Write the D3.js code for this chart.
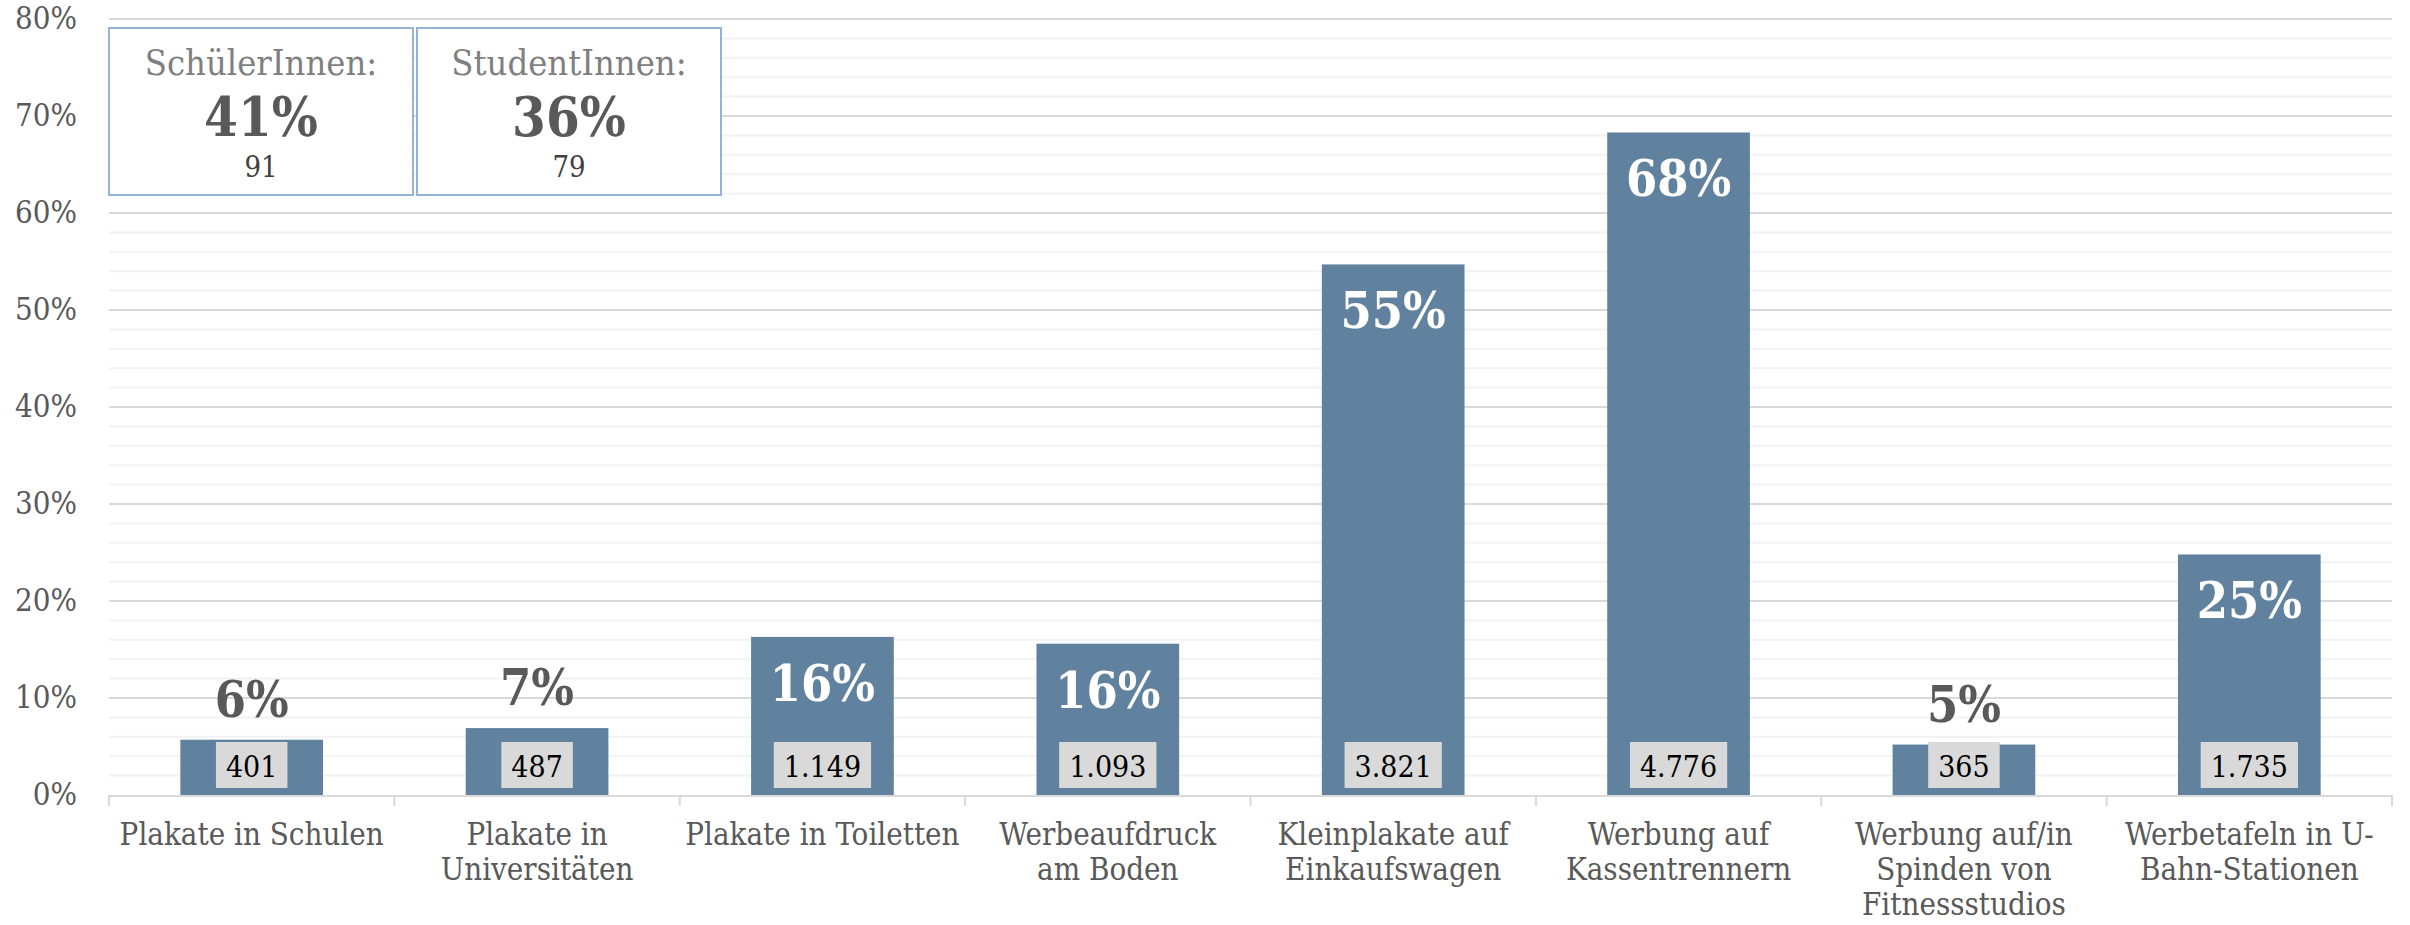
<!DOCTYPE html>
<html>
<head>
<meta charset="utf-8">
<script src="https://cdn.jsdelivr.net/npm/d3@7"></script>
<style>
    body { margin: 0; background: #fff; }
    svg { display: block; }
    text { font-family: 'DejaVu Serif Condensed', 'DejaVu Serif', serif; font-stretch: condensed; }
</style>
</head>
<body>
<div id="main"></div>
<script>
// categories, one entry per bar (lines are broken as in the original)
const categories = [
    ["Plakate in Schulen"],
    ["Plakate in", "Universitäten"],
    ["Plakate in Toiletten"],
    ["Werbeaufdruck", "am Boden"],
    ["Kleinplakate auf", "Einkaufswagen"],
    ["Werbung auf", "Kassentrennern"],
    ["Werbung auf/in", "Spinden von", "Fitnessstudios"],
    ["Werbetafeln in U-", "Bahn-Stationen"]
];

// share in percent (bar heights)
const shares = [5.7, 6.9, 16.3, 15.6, 54.7, 68.3, 5.2, 24.8];

// absolute counts shown at bar bottom
const counts = [401, 487, 1149, 1093, 3821, 4776, 365, 1735];

const yTicks = [0, 10, 20, 30, 40, 50, 60, 70, 80];

// summary boxes
const boxTitles = ["SchülerInnen:", "StudentInnen:"];
const boxShares = [41, 36];
const boxCounts = [91, 79];

const W = 2410, H = 925;
const margin = {top: 19, right: 18, bottom: 130, left: 109};
const width = W - margin.left - margin.right;
const height = H - margin.top - margin.bottom;

const de = d3.formatLocale({decimal: ",", thousands: ".", grouping: [3], currency: ["", " €"]});
const fmtCount = de.format(",d");

const svg = d3.select('#main').append('svg')
    .attr('width', W)
    .attr('height', H)
    .append('g')
    .attr('transform', 'translate(' + margin.left + ',' + margin.top + ')');

const idx = categories.map((d, i) => i);

const xScale = d3.scaleBand()
    .domain(idx)
    .range([0, width])
    .paddingInner(0.5)
    .paddingOuter(0.25);

const yScale = d3.scaleLinear()
    .domain([0, 80])
    .range([height, 0]);

// minor gridlines every 2%
const minor = d3.range(2, 80, 2).filter(v => v % 10 !== 0);
svg.append('g').selectAll('line')
    .data(minor)
    .enter().append('line')
    .attr('x1', 0).attr('x2', width)
    .attr('y1', d => yScale(d)).attr('y2', d => yScale(d))
    .attr('stroke', '#f2f2f2')
    .attr('stroke-width', 2);

// major gridlines
svg.append('g').selectAll('line')
    .data(yTicks.filter(v => v > 0))
    .enter().append('line')
    .attr('x1', 0).attr('x2', width)
    .attr('y1', d => yScale(d)).attr('y2', d => yScale(d))
    .attr('stroke', '#d9d9d9')
    .attr('stroke-width', 2);

// y axis labels
const yAxis = d3.axisLeft(yScale)
    .tickValues(yTicks)
    .tickFormat(d => d + '%')
    .tickSize(0)
    .tickPadding(32);

const yg = svg.append('g').call(yAxis);
yg.select('.domain').remove();
yg.selectAll('text')
    .attr('fill', '#595959')
    .style('font-size', '31px');

// bars
svg.selectAll('.bar')
    .data(shares)
    .enter().append('rect')
    .attr('class', 'bar')
    .attr('x', (d, i) => xScale(i))
    .attr('width', xScale.bandwidth())
    .attr('y', d => yScale(d))
    .attr('height', d => height - yScale(d))
    .attr('fill', '#60829f');

// x axis base line and category ticks
const step = xScale.step();
svg.append('line')
    .attr('x1', 0).attr('x2', width)
    .attr('y1', height + 1).attr('y2', height + 1)
    .attr('stroke', '#d9d9d9')
    .attr('stroke-width', 2);

svg.append('g').selectAll('line')
    .data(d3.range(categories.length + 1))
    .enter().append('line')
    .attr('x1', d => d * step).attr('x2', d => d * step)
    .attr('y1', height).attr('y2', height + 11)
    .attr('stroke', '#d9d9d9')
    .attr('stroke-width', 2);

// category labels
const xl = svg.append('g').selectAll('text')
    .data(categories)
    .enter().append('text')
    .attr('text-anchor', 'middle')
    .attr('fill', '#595959')
    .style('font-size', '31px');

xl.selectAll('tspan')
    .data((d, i) => d.map(line => ({line: line, i: i})))
    .enter().append('tspan')
    .attr('x', d => xScale(d.i) + xScale.bandwidth() / 2)
    .attr('y', (d, j) => height + 50 + j * 35)
    .text(d => d.line);

// percent labels: inside for tall bars, above for short ones
svg.selectAll('.pct')
    .data(shares)
    .enter().append('text')
    .attr('class', 'pct')
    .attr('text-anchor', 'middle')
    .attr('x', (d, i) => xScale(i) + xScale.bandwidth() / 2)
    .attr('y', d => d > 10 ? yScale(d) + 64 : yScale(d) - 23)
    .attr('fill', d => d > 10 ? '#ffffff' : '#595959')
    .style('font-size', '50px')
    .style('font-weight', 'bold')
    .text(d => Math.round(d) + '%');

// count labels on grey boxes
const cg = svg.selectAll('.cnt')
    .data(counts)
    .enter().append('g')
    .attr('class', 'cnt')
    .attr('transform', (d, i) => 'translate(' + (xScale(i) + xScale.bandwidth() / 2) + ',' + (height - 30) + ')');

cg.append('text')
    .attr('text-anchor', 'middle')
    .attr('y', 12)
    .attr('fill', '#000')
    .style('font-size', '30px')
    .text(d => fmtCount(d));

cg.each(function () {
    const g = d3.select(this);
    const bb = g.select('text').node().getBBox();
    g.insert('rect', 'text')
        .attr('x', bb.x - 10)
        .attr('width', bb.width + 20)
        .attr('y', -23)
        .attr('height', 46)
        .attr('fill', '#d9d9d9');
});

// summary boxes top left
const bw = 304, bh = 167, bgap = 4;
const boxes = svg.selectAll('.box')
    .data(boxTitles)
    .enter().append('g')
    .attr('class', 'box')
    .attr('transform', (d, i) => 'translate(' + (i * (bw + bgap)) + ',9)');

boxes.append('rect')
    .attr('width', bw)
    .attr('height', bh)
    .attr('fill', '#fff')
    .attr('stroke', '#95b3d7')
    .attr('stroke-width', 2);

boxes.append('text')
    .attr('x', bw / 2).attr('y', 47)
    .attr('text-anchor', 'middle')
    .attr('fill', '#7f7f7f')
    .style('font-size', '36px')
    .text(d => d);

boxes.append('text')
    .attr('x', bw / 2).attr('y', 108)
    .attr('text-anchor', 'middle')
    .attr('fill', '#595959')
    .style('font-size', '54px')
    .style('font-weight', 'bold')
    .text((d, i) => boxShares[i] + '%');

boxes.append('text')
    .attr('x', bw / 2).attr('y', 149)
    .attr('text-anchor', 'middle')
    .attr('fill', '#404040')
    .style('font-size', '29px')
    .text((d, i) => boxCounts[i]);
</script>
</body>
</html>
